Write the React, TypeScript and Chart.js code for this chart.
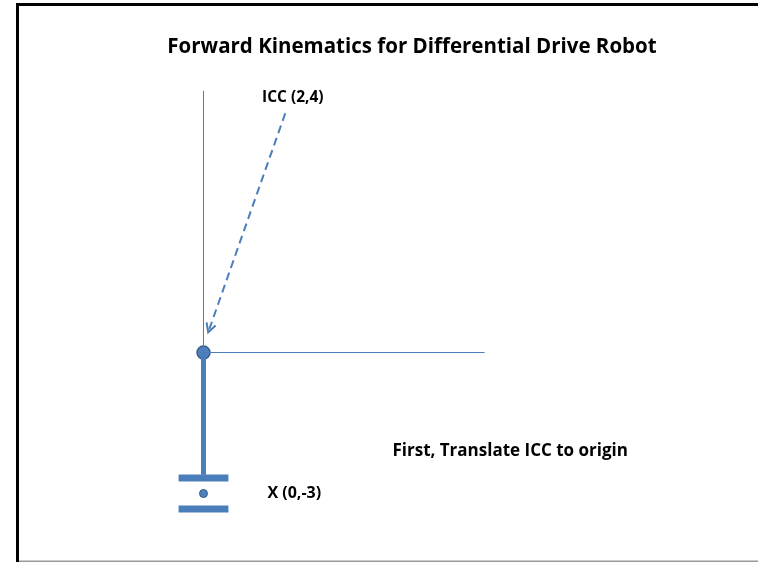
import React, { useEffect, useRef } from "react";
import { Chart, registerables } from "chart.js";

Chart.register(...registerables);

// Frame after translating the ICC to the origin
const yAxisLine = [
  { x: 0, y: 0 },
  { x: 0, y: 5.57 },
];
const xAxisLine = [
  { x: 0, y: 0 },
  { x: 5.98, y: 0 },
];
const iccPoint = [{ x: 0, y: 0 }];
const robotStem = [
  { x: 0, y: 0 },
  { x: 0, y: -2.6 },
];
const wheelTop = [
  { x: -0.53, y: -2.67 },
  { x: 0.53, y: -2.67 },
];
const wheelBottom = [
  { x: -0.53, y: -3.33 },
  { x: 0.53, y: -3.33 },
];
const robotCenter = [{ x: 0, y: -3 }];
const iccArrow = [
  { x: 1.74, y: 5.09 },
  { x: 0.1, y: 0.43 },
];

const titleText = "Forward Kinematics for Differential Drive Robot";
const labelTexts = ["ICC (2,4)", "X (0,-3)", "First, Translate ICC to origin"];
const labelX = [1.9, 1.36, 4.02];
const labelY = [5.43, -3.0, -2.1];
const labelAlign: CanvasTextAlign[] = ["center", "left", "left"];
const labelSize = [15.5, 16, 17];

const X_MIN = -4.3298;
const X_MAX = 11.798;
const Y_MIN = -4.457;
const Y_MAX = 7.5;

const BLUE = "#4a7ebb";
const FILL = "#4f81bd";
const FONT = "'Open Sans', 'Liberation Sans', sans-serif";

const decorPlugin = {
  id: "decor",
  beforeDraw(chart: any) {
    const ctx = chart.ctx;
    const w = chart.width;
    const h = chart.height;
    ctx.save();
    ctx.fillStyle = "#ffffff";
    ctx.fillRect(0, 0, w, h);
    // frame
    ctx.fillStyle = "#000000";
    ctx.fillRect(16, 3, w - 16, 3);
    ctx.fillRect(16, 3, 3, h - 3);
    ctx.fillStyle = "#9a9a9a";
    ctx.fillRect(19, h - 1.5, w - 19, 1.5);
    ctx.restore();
  },
  afterDatasetsDraw(chart: any) {
    const ctx = chart.ctx;
    const xs = chart.scales.x;
    const ys = chart.scales.y;
    ctx.save();
    // arrow head on dashed arrow
    const meta = chart.getDatasetMeta(7);
    const p0 = meta.data[0];
    const p1 = meta.data[1];
    const ang = Math.atan2(p1.y - p0.y, p1.x - p0.x);
    const len = 10;
    const spread = 0.5;
    ctx.strokeStyle = BLUE;
    ctx.lineWidth = 2;
    ctx.setLineDash([]);
    ctx.beginPath();
    ctx.moveTo(p1.x - len * Math.cos(ang - spread), p1.y - len * Math.sin(ang - spread));
    ctx.lineTo(p1.x, p1.y);
    ctx.lineTo(p1.x - len * Math.cos(ang + spread), p1.y - len * Math.sin(ang + spread));
    ctx.stroke();

    // title
    ctx.fillStyle = "#000000";
    ctx.textBaseline = "middle";
    ctx.textAlign = "center";
    ctx.font = `bold 20.5px ${FONT}`;
    ctx.fillText(titleText, 412, 47);

    // labels
    labelTexts.forEach((t, i) => {
      ctx.font = `bold ${labelSize[i]}px ${FONT}`;
      ctx.textAlign = labelAlign[i];
      ctx.fillText(t, xs.getPixelForValue(labelX[i]), ys.getPixelForValue(labelY[i]));
    });
    ctx.restore();
  },
};

export default function App() {
  const ref = useRef<HTMLCanvasElement | null>(null);
  useEffect(() => {
    if (!ref.current) return;
    const line = (data: any[], width: number, extra: any = {}) => ({
      type: "scatter",
      data,
      showLine: true,
      borderColor: BLUE,
      borderWidth: width,
      pointRadius: 0,
      fill: false,
      borderCapStyle: "butt",
      ...extra,
    });
    const chart = new Chart(ref.current, {
      type: "scatter",
      data: {
        datasets: [
          line(yAxisLine, 1),
          line(xAxisLine, 1),
          line(robotStem, 5),
          line(wheelTop, 7),
          line(wheelBottom, 7),
          {
            type: "scatter",
            data: robotCenter,
            pointRadius: 4,
            backgroundColor: FILL,
            borderColor: "#385d8a",
            borderWidth: 1,
          },
          {
            type: "scatter",
            data: iccPoint,
            pointRadius: 6.5,
            backgroundColor: FILL,
            borderColor: "#385d8a",
            borderWidth: 1.5,
          },
          line(iccArrow, 2, { borderDash: [8, 5] }),
        ] as any,
      },
      options: {
        animation: false,
        responsive: false,
        maintainAspectRatio: false,
        layout: { padding: 0, autoPadding: false },
        plugins: {
          legend: { display: false },
          title: { display: false },
          tooltip: { enabled: false },
        },
        events: [],
        scales: {
          x: { type: "linear", min: X_MIN, max: X_MAX, display: false },
          y: { type: "linear", min: Y_MIN, max: Y_MAX, display: false },
        },
      } as any,
      plugins: [decorPlugin],
    });
    return () => chart.destroy();
  }, []);
  return (
    <div style={{ position: "fixed", left: 0, top: 0, width: 758, height: 562 }}>
      <canvas ref={ref} width={758} height={562} style={{ display: "block" }} />
    </div>
  );
}
